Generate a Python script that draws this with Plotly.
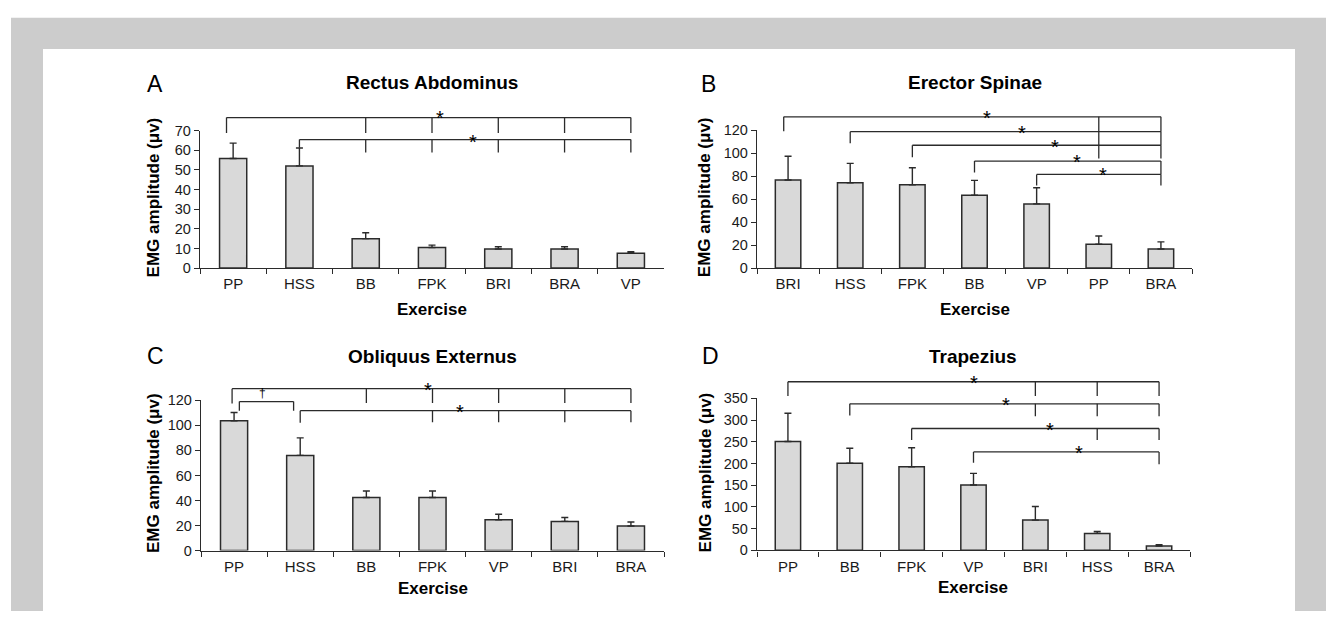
import plotly.graph_objects as go

W, H = 1326, 619
FONT = "Liberation Sans, Arial, sans-serif"
FILL = "#d9d9d9"
EDGE = "#2b2b2b"
TXT = "#1a1a1a"

# ---------------- data ----------------
A_cats = ["PP", "HSS", "BB", "FPK", "BRI", "BRA", "VP"]
A_vals = [55.8, 52.0, 15.0, 10.5, 9.7, 9.7, 7.6]
A_err = [7.8, 9.1, 3.0, 1.2, 1.2, 1.2, 0.7]

B_cats = ["BRI", "HSS", "FPK", "BB", "VP", "PP", "BRA"]
B_vals = [76.6, 74.1, 72.4, 63.4, 55.8, 20.8, 16.6]
B_err = [20.6, 16.9, 14.9, 12.9, 14.1, 7.1, 6.2]

C_cats = ["PP", "HSS", "BB", "FPK", "VP", "BRI", "BRA"]
C_vals = [103.7, 76.0, 42.4, 42.4, 24.6, 23.3, 19.7]
C_err = [6.5, 14.0, 5.2, 5.2, 4.4, 3.1, 3.1]

D_cats = ["PP", "BB", "FPK", "VP", "BRI", "HSS", "BRA"]
D_vals = [250.5, 200.4, 192.2, 150.3, 69.6, 38.9, 9.7]
D_err = [65.1, 34.5, 44.1, 27.0, 31.4, 4.5, 3.0]

# significance brackets: level, source, source end, targets, target end, mark, mark x (category units), mark y
A_brackets = [
    dict(level=76.6, src="PP", src_end=68.7, tgts=["BB", "FPK", "BRI", "BRA", "VP"], tgt_end=68.7, mark="*", mx=3.12, my=80.2, src_off=-0.1),
    dict(level=65.4, src="HSS", src_end=61.3, tgts=["BB", "FPK", "BRI", "BRA", "VP"], tgt_end=58.8, mark="*", mx=3.62, my=67.9),
]
B_brackets = [
    dict(level=131.5, src="BRI", src_end=118.9, tgts=["PP", "BRA"], tgt_end=118.6, mark="*", mx=3.2, my=136.6, src_off=-0.07),
    dict(level=118.6, src="HSS", src_end=108.5, tgts=["PP", "BRA"], tgt_end=106.8, mark="*", mx=3.76, my=123.9),
    dict(level=106.8, src="FPK", src_end=96.3, tgts=["PP", "BRA"], tgt_end=95.3, mark="*", mx=4.29, my=111.0),
    dict(level=93.0, src="BB", src_end=83.1, tgts=["BRA"], tgt_end=81.4, mark="*", mx=4.65, my=98.6),
    dict(level=81.4, src="VP", src_end=71.8, tgts=["BRA"], tgt_end=71.8, mark="*", mx=5.06, my=87.0),
]
C_brackets = [
    dict(level=129.3, src="PP", src_end=117.4, tgts=["BB", "FPK", "VP", "BRI", "BRA"], tgt_end=117.9, mark="*", mx=2.93, my=133.7, src_off=-0.03),
    dict(level=119.0, src="PP", src_end=111.7, tgts=["HSS"], tgt_end=111.7, mark="\u2020", mx=0.43, my=126.0, src_off=0.08, tgt_off=-0.1),
    dict(level=111.7, src="HSS", src_end=102.1, tgts=["FPK", "VP", "BRI", "BRA"], tgt_end=102.4, mark="*", mx=3.41, my=116.1),
]
D_brackets = [
    dict(level=388.2, src="PP", src_end=355.3, tgts=["BRI", "HSS", "BRA"], tgt_end=355.3, mark="*", mx=3.0, my=401.6),
    dict(level=337.3, src="BB", src_end=310.4, tgts=["BRI", "HSS", "BRA"], tgt_end=309.0, mark="*", mx=3.53, my=350.0),
    dict(level=280.5, src="FPK", src_end=254.3, tgts=["HSS", "BRA"], tgt_end=254.3, mark="*", mx=4.23, my=293.9),
    dict(level=226.6, src="VP", src_end=201.9, tgts=["BRA"], tgt_end=198.2, mark="*", mx=4.7, my=239.3),
]

titles = ["Rectus Abdominus", "Erector Spinae", "Obliquus Externus", "Trapezius"]
letters = ["A", "B", "C", "D"]
y_title = "EMG amplitude (\u03bcv)"
x_title = "Exercise"

# ---------------- layout geometry (pixels) ----------------
panels = [
    dict(cats=A_cats, vals=A_vals, err=A_err, br=A_brackets, ymax=70, dtick=10,
         left=200, right=664, y0=267, ytop=125.8, ext=86, letter_xy=(145, 78), title_y=76, ytx=153, xty=309),
    dict(cats=B_cats, vals=B_vals, err=B_err, br=B_brackets, ymax=120, dtick=20,
         left=757, right=1192, y0=267, ytop=125.3, ext=86, letter_xy=(699, 78), title_y=76, ytx=704, xty=309),
    dict(cats=C_cats, vals=C_vals, err=C_err, br=C_brackets, ymax=120, dtick=20,
         left=201, right=664, y0=557, ytop=402.7, ext=364, letter_xy=(145, 357), title_y=358, ytx=153.5, xty=596),
    dict(cats=D_cats, vals=D_vals, err=D_err, br=D_brackets, ymax=350, dtick=50,
         left=757, right=1190, y0=556.7, ytop=400.7, ext=364, letter_xy=(700, 357), title_y=358, ytx=705, xty=595),
]

fig = go.Figure()
layout = {}
shapes = []
annotations = []

# page frame
shapes.append(dict(type="rect", xref="paper", yref="paper", x0=11 / W, x1=1, y0=0, y1=1 - 10 / H,
                   fillcolor="#cccccc", line=dict(width=0), layer="below"))
shapes.append(dict(type="rect", xref="paper", yref="paper", x0=43 / W, x1=1295 / W, y0=0, y1=1 - 42 / H,
                   fillcolor="white", line=dict(width=0), layer="below"))

for i, p in enumerate(panels):
    n = i + 1
    xa = "x" if n == 1 else f"x{n}"
    ya = "y" if n == 1 else f"y{n}"
    yb = f"y{n + 4}"
    cats = p["cats"]
    ppu = (p["y0"] - p["ytop"]) / p["ymax"]
    ext_top = (p["y0"] - p["ext"]) / ppu

    fig.add_trace(go.Bar(
        x=cats, y=p["vals"], xaxis=xa, yaxis=ya, width=0.41,
        marker=dict(color=FILL, line=dict(color=EDGE, width=1.5)),
        error_y=dict(type="data", symmetric=False, array=p["err"], arrayminus=[0] * len(cats),
                     color=EDGE, thickness=1.4, width=3.5),
        hoverinfo="skip", showlegend=False))
    fig.add_trace(go.Scatter(x=[cats[0]], y=[0], xaxis=xa, yaxis=yb, mode="markers",
                             marker=dict(opacity=0), hoverinfo="skip", showlegend=False))

    xkey = "xaxis" if n == 1 else f"xaxis{n}"
    ykey = "yaxis" if n == 1 else f"yaxis{n}"
    layout[xkey] = dict(
        domain=[p["left"] / W, p["right"] / W], anchor=ya, type="category",
        categoryorder="array", categoryarray=cats, range=[-0.5, len(cats) - 0.5],
        tickson="boundaries", ticks="outside", ticklen=5, tickwidth=1.3, tickcolor=EDGE,
        showline=True, linecolor=EDGE, linewidth=1.4, showgrid=False, zeroline=False,
        tickfont=dict(family=FONT, size=15, color=TXT), ticklabelstandoff=2, fixedrange=True)
    layout[ykey] = dict(
        domain=[1 - p["y0"] / H, 1 - p["ytop"] / H], anchor=xa, range=[0, p["ymax"]],
        tickmode="linear", tick0=0, dtick=p["dtick"], ticks="outside", ticklen=5, tickwidth=1.3,
        tickcolor=EDGE, showline=True, linecolor=EDGE, linewidth=1.4, showgrid=False, zeroline=False,
        tickfont=dict(family=FONT, size=14.5, color=TXT), fixedrange=True)
    layout[f"yaxis{n + 4}"] = dict(
        domain=[1 - p["y0"] / H, 1 - p["ext"] / H], anchor=xa, range=[0, ext_top],
        visible=False, fixedrange=True, showgrid=False, zeroline=False)

    # brackets
    for b in p["br"]:
        sx = cats.index(b["src"]) + b.get("src_off", 0)
        txs = [cats.index(t) + b.get("tgt_off", 0) for t in b["tgts"]]
        line = dict(color=EDGE, width=1.3)
        shapes.append(dict(type="line", xref=xa, yref=yb, x0=sx, x1=max(txs), y0=b["level"], y1=b["level"], line=line))
        shapes.append(dict(type="line", xref=xa, yref=yb, x0=sx, x1=sx, y0=b["level"], y1=b["src_end"], line=line))
        for tx in txs:
            shapes.append(dict(type="line", xref=xa, yref=yb, x0=tx, x1=tx, y0=b["level"], y1=b["tgt_end"], line=line))
        star = b["mark"] == "*"
        annotations.append(dict(xref=xa, yref=yb, x=b["mx"], y=b["my"], text=b["mark"], showarrow=False,
                                xanchor="center", yanchor="middle", yshift=-7 if star else 0,
                                font=dict(family=FONT, size=20 if star else 12, color="black")))

    cx = (p["left"] + p["right"]) / 2 / W
    annotations.append(dict(xref="paper", yref="paper", x=cx, y=1 - p["title_y"] / H, text="<b>" + titles[i] + "</b>",
                            showarrow=False, xanchor="center", yanchor="middle",
                            font=dict(family=FONT, size=19, color="black")))
    lx, ly = p["letter_xy"]
    annotations.append(dict(xref="paper", yref="paper", x=lx / W, y=1 - ly / H, text=letters[i],
                            showarrow=False, xanchor="left", yanchor="middle",
                            font=dict(family=FONT, size=23, color="black")))
    annotations.append(dict(xref="paper", yref="paper", x=p["ytx"] / W, y=1 - ((p["y0"] + p["ytop"]) / 2 - 2) / H,
                            text="<b>" + y_title + "</b>", textangle=-90, showarrow=False,
                            xanchor="center", yanchor="middle", font=dict(family=FONT, size=17, color="black")))
    annotations.append(dict(xref="paper", yref="paper", x=cx, y=1 - p["xty"] / H, text="<b>" + x_title + "</b>",
                            showarrow=False, xanchor="center", yanchor="middle",
                            font=dict(family=FONT, size=17, color="black")))

fig.update_layout(
    width=W, height=H, margin=dict(l=0, r=0, t=0, b=0), autosize=False,
    paper_bgcolor="white", plot_bgcolor="rgba(0,0,0,0)",
    shapes=shapes, annotations=annotations, showlegend=False, bargap=0.5,
    font=dict(family=FONT, color=TXT), **layout)

PAGE_JS = "document.body.style.margin='0px';document.body.style.overflow='hidden';"
fig.write_html("out.html", config={"displayModeBar": False}, post_script=PAGE_JS)
